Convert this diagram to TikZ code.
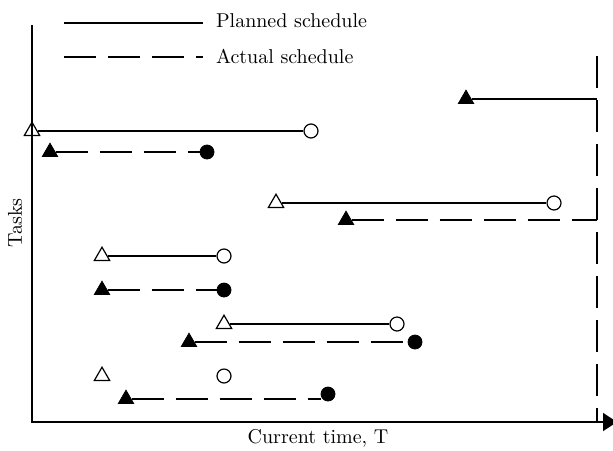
\documentclass[tikz,border=0pt]{standalone}
\usetikzlibrary{shapes.geometric,arrows.meta}

\begin{document}
\begin{tikzpicture}
[
	opentri/.style={regular polygon,regular polygon sides=3,draw,line width=0.6pt,inner sep=0pt,minimum size=8.8pt},
	closedtri/.style={regular polygon,regular polygon sides=3,draw,fill,inner sep=0pt,minimum size=8.8pt},
	openpt/.style={circle,draw,line width=0.6pt,inner sep=0pt,minimum size=7pt},
	closedpt/.style={circle,draw,fill,inner sep=0pt,minimum size=7pt},
	planned/.style={line width=0.6pt},
	actual/.style={line width=0.6pt,dash pattern=on 16pt off 6pt},
	x=0.5pt,
	y=-0.5pt
]

	\useasboundingbox (0,0) rectangle (613,450);

	% axes
	\coordinate (ytop) at (32,25);
	\coordinate (origin) at (32,422);
	\coordinate (xend) at (617,422);
	\draw[line width=0.75pt,-{Triangle[length=7pt,width=9pt]}] (ytop) -- (origin) -- (xend);
	\node[rotate=90] (tasks) at (15,223) {Tasks};
	\node (timelabel) at (318,438) {Current time, T};

	% legend
	\coordinate (plan1) at (64,23);
	\coordinate (plan2) at (203,23);
	\draw[planned] (plan1) -- (plan2);
	\node[anchor=base west] (plantext) at (209,27) {Planned schedule};
	\coordinate (act1) at (64,57);
	\coordinate (act2) at (203,57);
	\draw[actual] (act1) -- (act2);
	\node[anchor=base west] (acttext) at (209,63) {Actual schedule};

	% current time T
	\coordinate (nowtop) at (597,56);
	\coordinate (nowbot) at (597,422);
	\draw[actual] (nowtop) -- (nowbot);

	% task 0
	\node[closedtri] (a0s) at (466,99) {};
	\coordinate (a0e) at (597,99);
	\draw[planned] (a0s) -- (a0e);

	% task 1
	\node[opentri] (p1s) at (32,131) {};
	\node[openpt] (p1e) at (311,131) {};
	\draw[planned] (p1s) -- (p1e);
	\node[closedtri] (a1s) at (50,152) {};
	\node[closedpt] (a1e) at (207,152) {};
	\draw[actual] (a1s) -- (a1e);

	% task 2
	\node[opentri] (p2s) at (276,203) {};
	\node[openpt] (p2e) at (554,203) {};
	\draw[planned] (p2s) -- (p2e);
	\node[closedtri] (a2s) at (346,220) {};
	\coordinate (a2e) at (597,220);
	\draw[actual] (a2s) -- (a2e);

	% task 3
	\node[opentri] (p3s) at (102,256) {};
	\node[openpt] (p3e) at (224,256) {};
	\draw[planned] (p3s) -- (p3e);
	\node[closedtri] (a3s) at (102,290) {};
	\node[closedpt] (a3e) at (224,290) {};
	\draw[actual] (a3s) -- (a3e);

	% task 4
	\node[opentri] (p4s) at (224,324) {};
	\node[openpt] (p4e) at (397,324) {};
	\draw[planned] (p4s) -- (p4e);
	\node[closedtri] (a4s) at (189,342) {};
	\node[closedpt] (a4e) at (415,342) {};
	\draw[actual] (a4s) -- (a4e);

	% task 5 (not started)
	\node[opentri] (p5s) at (102,376) {};
	\node[openpt] (p5e) at (224,376) {};
	\node[closedtri] (a5s) at (126,399) {};
	\node[closedpt] (a5e) at (328,394) {};
	\draw[actual] (a5s) -- (a5s -| a5e.west);

\end{tikzpicture}
\end{document}
